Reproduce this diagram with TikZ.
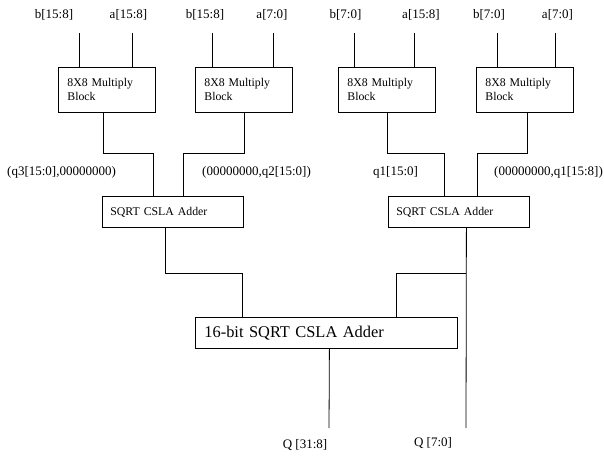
\documentclass[tikz,border=0pt]{standalone}
\usepackage{fontspec}
\setmainfont{Liberation Serif}
\usetikzlibrary{calc}
\tikzset{
  wire/.style={draw=black, line width=0.8pt},
  mult/.style={draw=black, line width=0.8pt, anchor=north west, minimum width=97pt, minimum height=45pt,
     text width=79pt, inner xsep=9pt, inner ysep=0pt, align=left, font=\fontsize{11.8}{14}\selectfont},
  adder/.style={draw=black, line width=0.8pt, anchor=north west, minimum width=141pt, minimum height=31pt,
     text width=125pt, inner xsep=8pt, inner ysep=0pt, align=left, font=\fontsize{11.8}{14}\selectfont},
  bigadder/.style={draw=black, line width=0.8pt, anchor=north west, minimum width=262pt, minimum height=31pt,
     text width=244pt, inner xsep=9pt, inner ysep=0pt, align=left, font=\fontsize{16.4}{19}\selectfont},
  lbl/.style={inner sep=0pt, font=\fontsize{13}{15}\selectfont},
}
\begin{document}
\begin{tikzpicture}[x=1pt,y=-1pt]
\useasboundingbox[fill=white] (0,0) rectangle (604,455);
% input labels
\node[lbl] (l1) at (54,15) {b[15:8]};
\node[lbl] (l2) at (128.5,15) {a[15:8]};
\node[lbl] (l3) at (205,15) {b[15:8]};
\node[lbl] (l4) at (272,15) {a[7:0]};
\node[lbl] (l5) at (345.5,15) {b[7:0]};
\node[lbl] (l6) at (421,15) {a[15:8]};
\node[lbl] (l7) at (489,15) {b[7:0]};
\node[lbl] (l8) at (557.5,15) {a[7:0]};
% multiply blocks
\node[mult] (m1) at (58,67) {8X8 Multiply\\Block};
\node[mult] (m2) at (195,67) {8X8 Multiply\\Block};
\node[mult] (m3) at (338,67) {8X8 Multiply\\Block};
\node[mult] (m4) at (476,67) {8X8 Multiply\\Block};
% input wire tops
\coordinate (i1) at (79,33);
\coordinate (i2) at (132,33);
\coordinate (i3) at (212,33);
\coordinate (i4) at (273,33);
\coordinate (i5) at (354,33);
\coordinate (i6) at (414,33);
\coordinate (i7) at (497,33);
\coordinate (i8) at (555,33);
\draw[wire] (i1) -- (i1 |- m1.north);
\draw[wire] (i2) -- (i2 |- m1.north);
\draw[wire] (i3) -- (i3 |- m2.north);
\draw[wire] (i4) -- (i4 |- m2.north);
\draw[wire] (i5) -- (i5 |- m3.north);
\draw[wire] (i6) -- (i6 |- m3.north);
\draw[wire] (i7) -- (i7 |- m4.north);
\draw[wire] (i8) -- (i8 |- m4.north);
% adders
\node[adder] (a1) at (102,196) {SQRT CSLA Adder};
\node[adder] (a2) at (388,196) {SQRT CSLA Adder};
\node[bigadder] (B) at (195,317) {16-bit SQRT CSLA Adder};
% mid labels
\node[lbl, anchor=west] (p1) at (7,172) {(q3[15:0],00000000)};
\node[lbl, anchor=west] (p2) at (202,172) {(00000000,q2[15:0])};
\node[lbl, anchor=west] (p3) at (373,172) {q1[15:0]};
\node[lbl, anchor=west] (p4) at (494,172) {(00000000,q1[15:8])};
% multiply -> adders
\draw[wire] ([xshift=-4pt]m1.south) -- ++(0,41) -| ([xshift=-19.5pt]a1.north);
\draw[wire] (m2.south) -- ++(0,41) -| ([xshift=10.5pt]a1.north);
\draw[wire] (m3.south) -- ++(0,41) -| ([xshift=-14.5pt]a2.north);
\draw[wire] ([xshift=2.5pt]m4.south) -- ++(0,41) -| ([xshift=18.5pt]a2.north);
% adders -> big adder
\coordinate (qhi) at (329,428);
\coordinate (qlo) at (466,428);
\coordinate (j) at (466,273);
\draw[wire] ([xshift=-7.5pt]a1.south) -- ++(0,46) -| ([xshift=-84pt]B.north);
\draw[wire] ([xshift=7.5pt]a2.south) -- (qlo);
\draw[wire] (j) -| ([xshift=70pt]B.north);
\draw[wire] ([xshift=3pt]B.south) -- (qhi);
% outputs
\node[lbl] (o1) at (305,445) {Q [31:8]};
\node[lbl] (o2) at (433,443) {Q [7:0]};
\end{tikzpicture}
\end{document}
